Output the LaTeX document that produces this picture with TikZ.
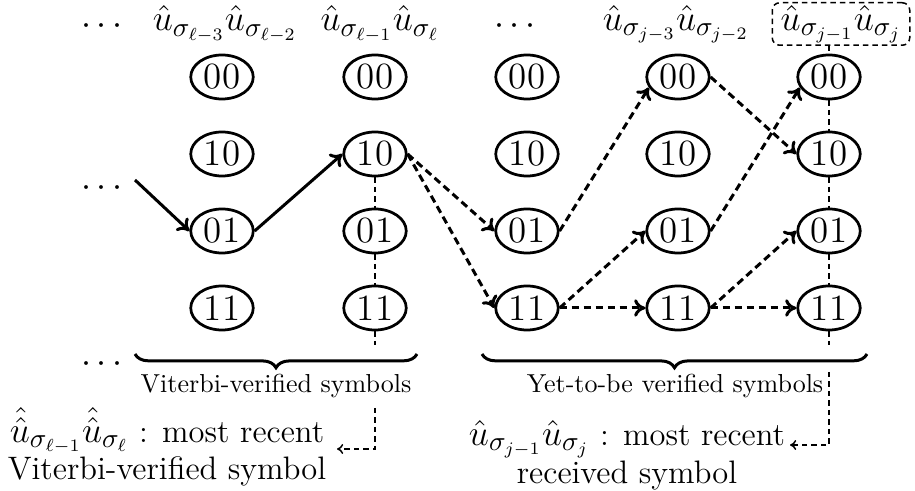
\documentclass[tikz,border=0pt]{standalone}
\usepackage{amsmath}
\usetikzlibrary{shapes.geometric,arrows.meta,decorations.pathreplacing}
\newcommand{\mbig}[1]{{\fontsize{15}{13.2}\selectfont$#1$}}
\begin{document}
\begin{tikzpicture}[x=0.4pt,y=-0.4pt,
  st/.style={ellipse,draw,line width=1.1pt,minimum width=25pt,minimum height=17.6pt,inner sep=0pt,font=\fontsize{14.8}{17}\selectfont},
  hdr/.style={inner sep=0pt,font=\fontsize{15}{18}\selectfont},
  dots/.style={inner sep=0pt,font=\fontsize{14}{16}\selectfont},
  solidarr/.style={line width=1.2pt,-{To[length=4.5pt,width=7pt]}},
  dasharr/.style={line width=1.2pt,dash pattern=on 3pt off 1.8pt,-{To[length=4.5pt,width=7pt]}},
  thin/.style={line width=0.6pt,dash pattern=on 2.2pt off 1.6pt},
  thinarr/.style={thin,-{To[length=2.5pt,width=4pt]}},
  bracestyle/.style={line width=1.2pt,decorate,decoration={brace,mirror,amplitude=5.5pt}},
  lbl/.style={inner sep=0pt,font=\fontsize{10.4}{12}\selectfont},
  big/.style={inner sep=0pt,align=center,font=\fontsize{13}{13.2}\selectfont}]
\useasboundingbox (0,0) rectangle (915,491);
% headers
\node[dots] (hd0) at (105,27) {$\cdots$};
\node[hdr] (hd1) at (225,24) {$\hat{u}_{\sigma_{\ell-3}}\hat{u}_{\sigma_{\ell-2}}$};
\node[hdr] (hd2) at (380,24) {$\hat{u}_{\sigma_{\ell-1}}\hat{u}_{\sigma_{\ell}}$};
\node[dots] (hd3) at (518,27) {$\cdots$};
\node[hdr] (hd4) at (676,24) {$\hat{u}_{\sigma_{j-3}}\hat{u}_{\sigma_{j-2}}$};
\node[hdr,draw,thin,rounded corners=3pt,minimum width=55pt,minimum height=17pt,inner sep=0.5pt] (hd5) at (841,24) {$\hat{u}_{\sigma_{j-1}}\hat{u}_{\sigma_{j}}$};
% left dots
\node[dots] (ld1) at (105,189) {$\cdots$};
\node[dots] (ld2) at (105,365) {$\cdots$};
% states
\foreach \c/\x in {1/222,2/375,3/527,4/678,5/829}{
  \node[st] (c\c r1) at (\x,77) {00};
  \node[st] (c\c r2) at (\x,154) {10};
  \node[st] (c\c r3) at (\x,231) {01};
  \node[st] (c\c r4) at (\x,308) {11};
}
% solid path
\coordinate (s0) at (135,180);
\draw[solidarr] (s0) -- (c1r3.west);
\draw[solidarr] (c1r3.east) -- (c2r2.west);
% dashed paths
\draw[dasharr] (c2r2.east) -- (c3r3.west);
\draw[dasharr] (c2r2.east) -- (c3r4.west);
\draw[dasharr] (c3r3.east) -- (c4r1.200);
\draw[dasharr] (c3r4.east) -- (c4r3.west);
\draw[dasharr] (c3r4.east) -- (c4r4.west);
\draw[dasharr] (c4r1.east) -- (c5r2.west);
\draw[dasharr] (c4r3.east) -- (c5r1.200);
\draw[dasharr] (c4r4.east) -- (c5r3.west);
\draw[dasharr] (c4r4.east) -- (c5r4.west);
% thin dashed guides col 2
\coordinate (g2a) at (375,345);
\coordinate (g2b) at (375,408);
\coordinate (g2c) at (375,449);
\coordinate (g2d) at (337,449);
\draw[thin] (c2r2.south) -- (c2r3.north);
\draw[thin] (c2r3.south) -- (c2r4.north);
\draw[thin] (c2r4.south) -- (g2a);
\draw[thinarr] (g2b) -- (g2c) -- (g2d);
% thin dashed guides col 5
\coordinate (g5a) at (829,345);
\coordinate (g5b) at (829,372);
\coordinate (g5c) at (829,445);
\coordinate (g5d) at (790,445);
\draw[thin] (c5r1 |- hd5.south) -- (c5r1.north);
\draw[thin] (c5r1.south) -- (c5r2.north);
\draw[thin] (c5r2.south) -- (c5r3.north);
\draw[thin] (c5r3.south) -- (c5r4.north);
\draw[thin] (c5r4.south) -- (g5a);
\draw[thinarr] (g5b) -- (g5c) -- (g5d);
% braces
\coordinate (b1a) at (135,354);
\coordinate (b1b) at (417,354);
\coordinate (b2a) at (482,354);
\coordinate (b2b) at (867,354);
\draw[bracestyle] (b1a) -- (b1b);
\draw[bracestyle] (b2a) -- (b2b);
\node[lbl] (l1) at (276,386) {Viterbi-verified symbols};
\node[lbl] (l2) at (675,386) {Yet-to-be verified symbols};
% bottom texts
\node[big] (t1) at (167,447) {\mbig{\hat{\hat{u}}_{\sigma_{\ell-1}}\hat{\hat{u}}_{\sigma_{\ell}}} : most recent\\Viterbi-verified symbol};
\node[big] (t2) at (627,455) {\mbig{\hat{u}_{\sigma_{j-1}}\hat{u}_{\sigma_{j}}} : most recent\\received symbol};
\end{tikzpicture}
\end{document}
